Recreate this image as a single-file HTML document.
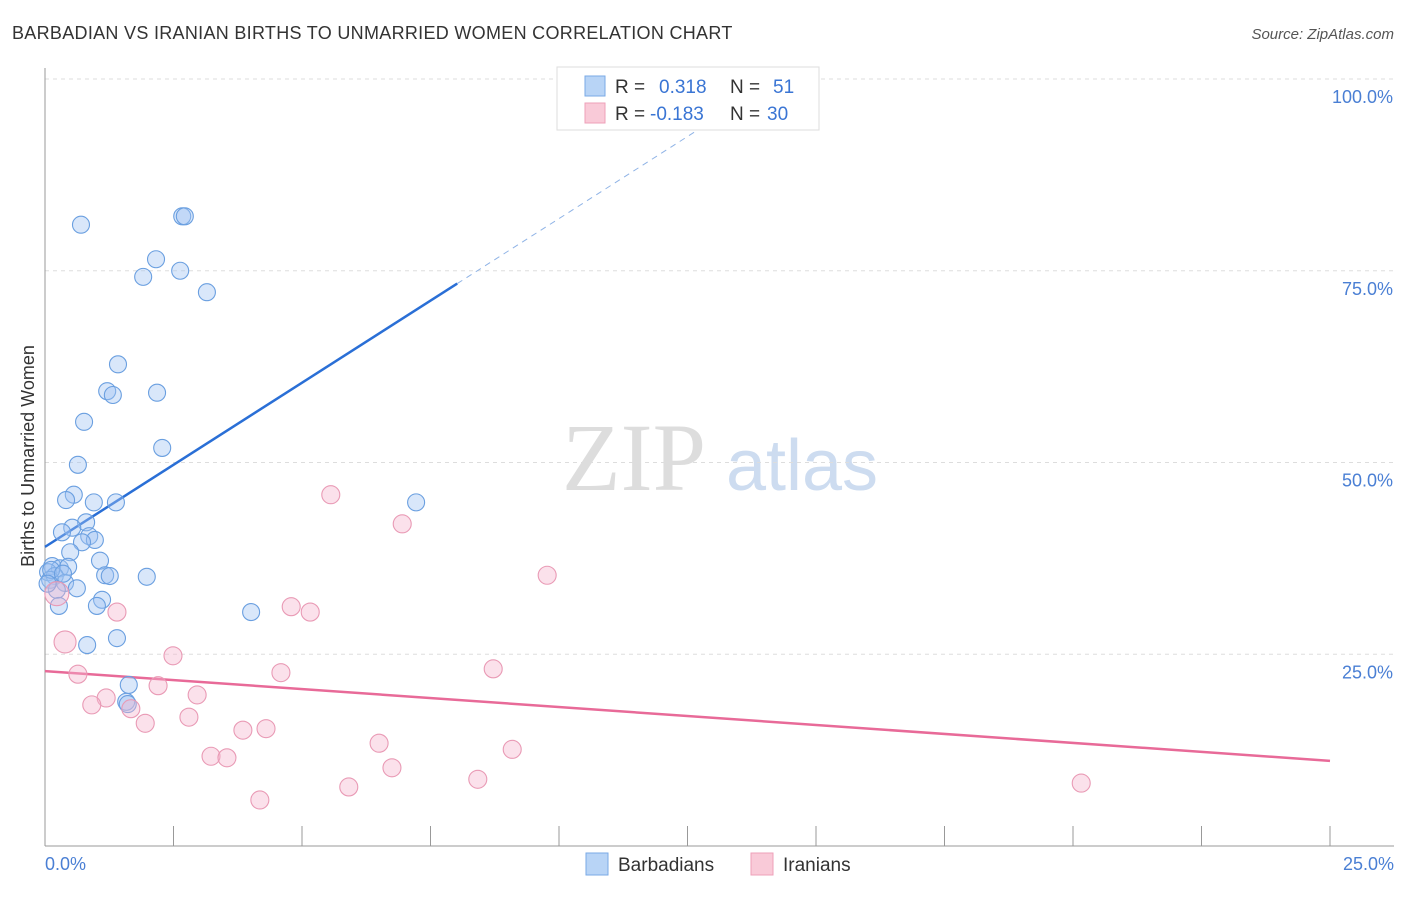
<!DOCTYPE html>
<html><head><meta charset="utf-8">
<style>
body{margin:0;background:#fff;font-family:"Liberation Sans",sans-serif;}
svg text{font-family:"Liberation Sans",sans-serif;}
</style></head>
<body>
<svg id="chart" width="1406" height="892" viewBox="0 0 1406 892" xmlns="http://www.w3.org/2000/svg">
<text x="12" y="39" font-size="18" fill="#333" letter-spacing="0.3">BARBADIAN VS IRANIAN BIRTHS TO UNMARRIED WOMEN CORRELATION CHART</text>
<text x="1394" y="39" font-size="15" fill="#555" text-anchor="end" font-style="italic">Source: ZipAtlas.com</text>
<g>
<text x="634" y="490" font-size="96" fill="#ddd" text-anchor="middle" style="font-family:'Liberation Serif',serif">ZIP</text>
<text x="802" y="490" font-size="72" fill="#cddcf0" text-anchor="middle">atlas</text>
</g>
<g id="grid"></g>
<g id="axes"></g>
<g id="lines"></g>
<g id="points"></g>
<text transform="translate(34,456) rotate(-90)" font-size="18" fill="#333" text-anchor="middle">Births to Unmarried Women</text>
<g>
<rect x="557" y="67" width="262" height="63" fill="#fff" stroke="#ddd"/>
<rect x="585" y="76" width="20" height="20" fill="#b8d4f6" stroke="#7aaae6"/>
<rect x="585" y="103" width="20" height="20" fill="#f9cad8" stroke="#eea0b9"/>
<text x="615" y="93" font-size="19" fill="#333">R = </text><text x="659" y="93" font-size="19" fill="#3a75d4">0.318</text>
<text x="730" y="93" font-size="19" fill="#333">N = </text><text x="773" y="93" font-size="19" fill="#3a75d4">51</text>
<text x="615" y="120" font-size="19" fill="#333">R = </text><text x="650" y="120" font-size="19" fill="#3a75d4">-0.183</text>
<text x="730" y="120" font-size="19" fill="#333">N = </text><text x="767" y="120" font-size="19" fill="#3a75d4">30</text>
</g>
<g>
<rect x="586" y="853" width="22" height="22" fill="#b8d4f6" stroke="#7aaae6"/>
<text x="618" y="871" font-size="19" fill="#333">Barbadians</text>
<rect x="751" y="853" width="22" height="22" fill="#f9cad8" stroke="#eea0b9"/>
<text x="783" y="871" font-size="19" fill="#333">Iranians</text>
</g>
</svg>
<script>
const xTicks=[0,2.5,5,7.5,10,12.5,15,17.5,20,22.5,25];
const yTicks=[25,50,75,100];
const yTickLabels=["25.0%","50.0%","75.0%","100.0%"];
const xEndLabels=["0.0%","25.0%"];
const blueX=[0.70,2.67,2.72,2.16,1.91,2.63,3.15,1.42,1.21,1.32,2.18,0.76,2.28,0.64,0.56,0.41,0.95,1.38,7.22,0.80,0.53,0.33,0.86,0.97,0.72,0.49,1.07,0.14,0.29,0.45,0.06,0.19,0.10,1.17,1.26,1.98,0.39,0.62,0.23,1.11,1.01,0.27,4.01,1.40,0.82,1.63,1.58,1.61,0.12,0.35,0.05];
const blueY=[81.0,82.1,82.1,76.5,74.2,75.0,72.2,62.8,59.3,58.8,59.1,55.3,51.9,49.7,45.8,45.1,44.8,44.8,44.8,42.2,41.5,40.9,40.4,39.9,39.6,38.3,37.2,36.5,36.2,36.4,35.7,35.2,34.7,35.3,35.2,35.1,34.3,33.6,33.4,32.1,31.3,31.3,30.5,27.1,26.2,21.0,18.8,18.5,36.0,35.5,34.2];
const pinkX=[5.56,6.95,9.77,0.23,1.40,4.79,5.16,0.39,2.49,8.72,0.64,4.59,2.20,2.96,1.19,0.91,1.67,2.80,1.95,3.85,4.30,6.50,3.23,3.54,9.09,6.75,8.42,5.91,4.18,20.16];
const pinkY=[45.8,42.0,35.3,32.9,30.5,31.2,30.5,26.6,24.8,23.1,22.4,22.6,20.9,19.7,19.3,18.4,17.9,16.8,16.0,15.1,15.3,13.4,11.7,11.5,12.6,10.2,8.7,7.7,6.0,8.2];
const pinkR=[9,9,9,12,9,9,9,11,9,9,9,9,9,9,9,9,9,9,9,9,9,9,9,9,9,9,9,9,9,9];
const blueTrend=[39.0,4.28];
const blueSolidEnd=8.02, blueDashEnd=13.3;
const pinkTrend=[22.8,-0.468];
const NS="http://www.w3.org/2000/svg";
const X0=45,X1=1330,Y0=846,Y100=79;
const sx=v=>X0+(X1-X0)*v/25;
const sy=v=>Y0-(Y0-Y100)*v/100;
function mk(tag,attrs,parent){const e=document.createElementNS(NS,tag);for(const k in attrs)e.setAttribute(k,attrs[k]);parent.appendChild(e);return e;}
const grid=document.getElementById('grid'),axes=document.getElementById('axes'),lines=document.getElementById('lines'),pts=document.getElementById('points');
yTicks.forEach((t,i)=>{
 const l=mk('line',{x1:X0,x2:1394,y1:sy(t),y2:sy(t),stroke:'#ddd','stroke-dasharray':'4,4'},grid);
 
 
 const tx=mk('text',{x:1393,y:sy(t)+24,'font-size':18,fill:'#4a7fd4','text-anchor':'end'},axes);
 tx.textContent=yTickLabels[i];
 
 
});
const ax=mk('line',{x1:X0,x2:X0,y1:68,y2:Y0,stroke:'#999'},axes);


const bx=mk('line',{x1:X0,x2:1394,y1:Y0,y2:Y0,stroke:'#999'},axes);


xTicks.forEach(t=>{
 const l=mk('line',{x1:sx(t),x2:sx(t),y1:826,y2:Y0,stroke:'#999'},axes);
 
 
});
const xl0=mk('text',{x:45,y:870,'font-size':18,fill:'#4a7fd4'},axes);xl0.textContent=xEndLabels[0];


const xl1=mk('text',{x:1394,y:870,'font-size':18,fill:'#4a7fd4','text-anchor':'end'},axes);xl1.textContent=xEndLabels[1];


blueX.forEach((v,i)=>{
 const c=mk('circle',{cx:sx(v),cy:sy(blueY[i]),r:8.5,fill:'rgba(160,196,242,0.4)',stroke:'#6a9fe0','stroke-width':1.1},pts);
 
 
});
pinkX.forEach((v,i)=>{
 const c=mk('circle',{cx:sx(v),cy:sy(pinkY[i]),r:pinkR[i],fill:'rgba(245,180,204,0.4)',stroke:'#e99ab5','stroke-width':1.1},pts);
 
 
});
const bf=x=>blueTrend[0]+blueTrend[1]*x, pf=x=>pinkTrend[0]+pinkTrend[1]*x;
const b1=mk('line',{x1:sx(0),y1:sy(bf(0)),x2:sx(blueSolidEnd),y2:sy(bf(blueSolidEnd)),stroke:'#2a6fd6','stroke-width':2.5},lines);


const b2=mk('line',{x1:sx(blueSolidEnd),y1:sy(bf(blueSolidEnd)),x2:sx(blueDashEnd),y2:sy(bf(blueDashEnd)),stroke:'#8fb3e6','stroke-width':1,'stroke-dasharray':'6,5'},lines);


const p1=mk('line',{x1:sx(0),y1:sy(pf(0)),x2:sx(25),y2:sy(pf(25)),stroke:'#e86a98','stroke-width':2.5},lines);


</script>
</body></html>
